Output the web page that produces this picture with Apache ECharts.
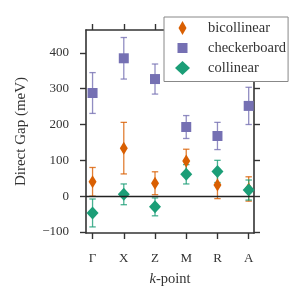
<!DOCTYPE html>
<html>
<head>
<meta charset="utf-8">
<script src="https://cdn.jsdelivr.net/npm/echarts@6/dist/echarts.min.js"></script>
<style>html,body{margin:0;padding:0;background:#fff}#c{width:300px;height:300px}</style>
</head>
<body>
<div id="c"></div>
<script>
const categories = ['Γ', 'X', 'Z', 'M', 'R', 'A'];
const bicollinear = [40, 134, 36, 98, 31, 20];
const bicollinearErr = [40, 72, 32, 33, 38, 34];
const checkerboard = [288, 385, 327, 193, 168, 252];
const checkerboardErr = [57, 58, 42, 32, 38, 52];
const collinear = [-47, 5, -30, 61, 69, 17];
const collinearErr = [39, 29, 25, 27, 31, 28];
const yTicks = [-100, 0, 100, 200, 300, 400];

const FONT = 'Liberation Serif';
const cOrange = '#d95f02', cPurple = '#7570b3', cGreen = '#1b9e77';
const xTicks = categories.map((_, i) => i);

function pts(vals) { return vals.map((v, i) => [i, v]); }
function errs(vals, e) { return vals.map((v, i) => [i, v - e[i], v + e[i]]); }

function errSeries(name, data, color) {
  return {
    type: 'custom', name: name + '_err', data: data, silent: true,
    encode: { x: 0, y: [1, 2] },
    renderItem: function (params, api) {
      const x = api.value(0), lo = api.value(1), hi = api.value(2);
      const t = api.coord([x, hi]), b = api.coord([x, lo]);
      const hw = 3.2;
      const st = { stroke: color, lineWidth: 1.3, opacity: 0.8 };
      return { type: 'group', children: [
        { type: 'line', shape: { x1: t[0], y1: t[1], x2: b[0], y2: b[1] }, style: st },
        { type: 'line', shape: { x1: t[0] - hw, y1: t[1], x2: t[0] + hw, y2: t[1] }, style: st },
        { type: 'line', shape: { x1: b[0] - hw, y1: b[1], x2: b[0] + hw, y2: b[1] }, style: st }
      ]};
    }
  };
}

const thinDiamond = 'path://M4,0L8,7L4,14L0,7Z';
const legendSquare = 'path://M0,0L0.01,0.01Z M15,14L14.99,13.99Z M2.5,2L12.5,2L12.5,12L2.5,12Z';
const axisCol = '#333';

const xAxisBase = {
  type: 'value', min: -0.21, max: 5.17,
  axisLine: { show: true, onZero: false, lineStyle: { color: axisCol, width: 1.6 } },
  splitLine: { show: false },
  axisTick: { show: true, inside: false, length: 6, customValues: xTicks, lineStyle: { color: axisCol, width: 1.4 } }
};
const yAxisBase = {
  type: 'value', min: -103, max: 464,
  axisLine: { show: true, onZero: false, lineStyle: { color: axisCol, width: 1.6 } },
  splitLine: { show: false },
  axisTick: { show: true, inside: false, length: 6, customValues: yTicks, lineStyle: { color: axisCol, width: 1.4 } }
};

const option = {
  animation: false,
  grid: { left: 86, right: 46, top: 30, bottom: 67 },
  xAxis: [
    Object.assign({}, xAxisBase, {
      position: 'bottom',
      axisLabel: { customValues: xTicks, margin: 19, fontFamily: FONT, fontSize: 13, color: '#333',
        formatter: v => categories[Math.round(v)] },
      name: '{i|k}-point', nameLocation: 'middle', nameGap: 39,
      nameTextStyle: { fontFamily: FONT, fontSize: 14.5, color: '#333',
        rich: { i: { fontFamily: FONT, fontSize: 14.5, fontStyle: 'italic', color: '#333' } } }
    }),
    Object.assign({}, xAxisBase, { position: 'top', axisLabel: { show: false } })
  ],
  yAxis: [
    Object.assign({}, yAxisBase, {
      position: 'left',
      axisLabel: { customValues: yTicks, margin: 17, fontFamily: FONT, fontSize: 13, color: '#333',
        formatter: v => (v < 0 ? '\u2212' + Math.abs(v) : String(v)) },
      name: 'Direct Gap (meV)', nameLocation: 'middle', nameGap: 57, nameRotate: 90,
      nameTextStyle: { fontFamily: FONT, fontSize: 15, color: '#333' }
    }),
    Object.assign({}, yAxisBase, { position: 'right', axisLabel: { show: false } })
  ],
  legend: {
    orient: 'vertical', left: 164, top: 17, z: 20,
    backgroundColor: '#fff', borderColor: '#888', borderWidth: 1, borderRadius: 0,
    padding: [3.5, 2, 6, 11],
    itemWidth: 15, itemHeight: 14, itemGap: 5,
    textStyle: { fontFamily: FONT, fontSize: 14.5, color: '#333', padding: [0, 0, 0, 13] },
    data: [
      { name: 'bicollinear', icon: thinDiamond },
      { name: 'checkerboard', icon: legendSquare },
      { name: 'collinear', icon: 'diamond' }
    ]
  },
  series: [
    errSeries('bicollinear', errs(bicollinear, bicollinearErr), cOrange),
    {
      type: 'scatter', name: 'bicollinear', data: pts(bicollinear),
      symbol: thinDiamond, symbolSize: [8, 13],
      itemStyle: { color: cOrange, opacity: 1 },
      markLine: { silent: true, symbol: 'none', label: { show: false },
        lineStyle: { color: '#222', width: 1.3, type: 'solid' },
        data: [{ yAxis: 0 }] }
    },
    errSeries('checkerboard', errs(checkerboard, checkerboardErr), cPurple),
    {
      type: 'scatter', name: 'checkerboard', data: pts(checkerboard),
      symbol: 'rect', symbolSize: 10,
      itemStyle: { color: cPurple, opacity: 1 }
    },
    errSeries('collinear', errs(collinear, collinearErr), cGreen),
    {
      type: 'scatter', name: 'collinear', data: pts(collinear),
      symbol: 'diamond', symbolSize: [12, 13],
      itemStyle: { color: cGreen, opacity: 1 }
    }
  ]
};

const chart = echarts.init(document.getElementById('c'), null, { renderer: 'canvas' });
chart.setOption(option);
</script>
</body>
</html>
